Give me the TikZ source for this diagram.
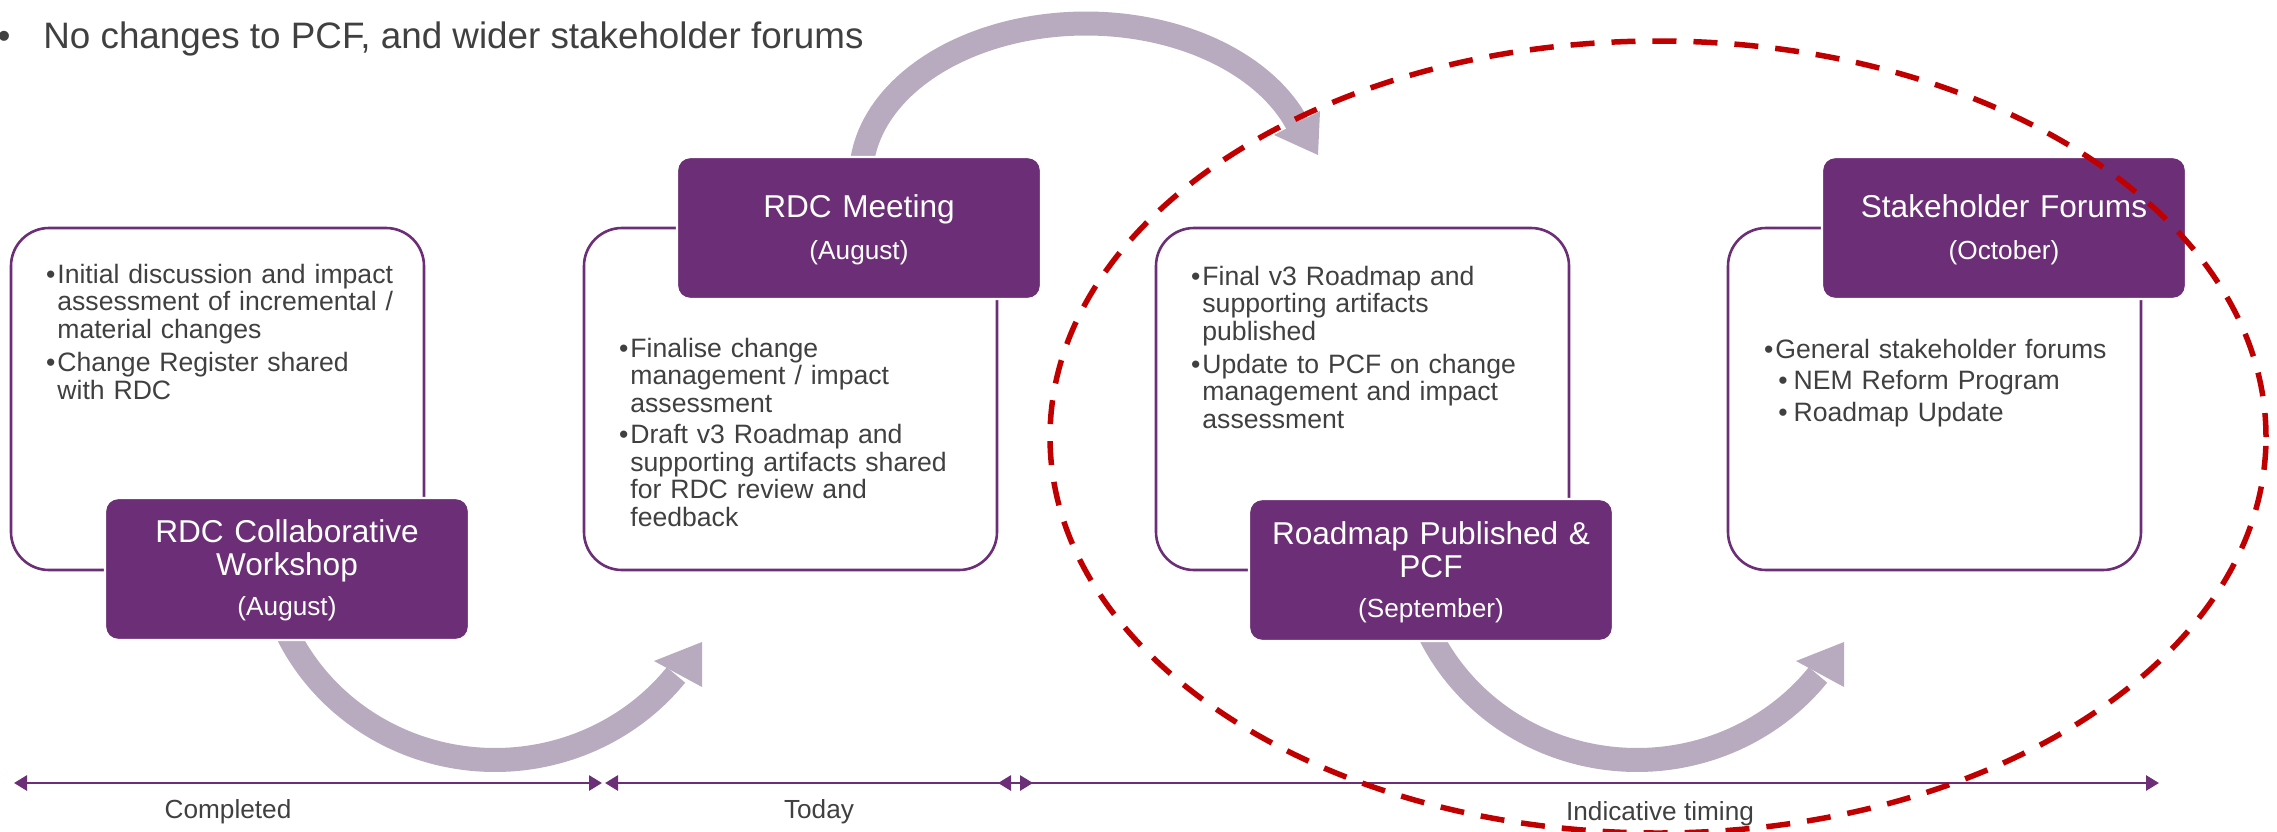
\documentclass[tikz,border=0pt]{standalone}
\usepackage{fontspec}
\setmainfont{Liberation Sans}
\usetikzlibrary{arrows.meta}
\definecolor{rdcpurple}{RGB}{108,46,118}
\definecolor{arrowgray}{RGB}{185,171,191}
\definecolor{txtgray}{RGB}{64,64,64}
\definecolor{dashred}{RGB}{192,0,0}
\newcommand{\bul}{\leavevmode\llap{\textbullet\hspace{1pt}}}
\newcommand{\subbul}{\leavevmode\hspace*{1.5pt}\textbullet\hspace{3pt}}
\newcommand{\monthfont}{\fontsize{13.1}{15}\selectfont}
\begin{document}
\begin{tikzpicture}[x=0.5pt,y=-0.5pt,
  whitebox/.style={draw=rdcpurple, line width=1.3pt, rounded corners=19pt, fill=white, inner sep=0pt,
    minimum width=206.5pt, minimum height=171pt},
  purplebox/.style={fill=rdcpurple, draw=white, line width=1.2pt, rounded corners=6.5pt, inner sep=0pt,
    minimum width=182pt, minimum height=71pt},
  bodytext/.style={text=txtgray, font=\fontsize{13.3}{13.8}\selectfont, text width=190pt, align=left,
    inner sep=0pt, anchor=base west},
  titletext/.style={text=white, font=\fontsize{15.8}{16.5}\selectfont, text width=178pt, align=center,
    inner sep=0pt, anchor=base},
  timelabel/.style={text=txtgray, font=\fontsize{13.1}{15}\selectfont, inner sep=0pt, anchor=base},
  timeline/.style={draw=rdcpurple, line width=1.4pt,
    {Triangle[length=6.5pt,width=7.5pt]}-{Triangle[length=6.5pt,width=7.5pt]}},
  curvedshaft/.style={draw=arrowgray, line width=12pt},
  curvedhead/.style={fill=arrowgray},
  dashring/.style={draw=dashred, line width=2.75pt, dash pattern=on 12pt off 8.5pt}
]
\useasboundingbox (0,0) rectangle (2277,831);

% heading
\node[text=txtgray, font=\fontsize{18.4}{20}\selectfont, inner sep=0pt, anchor=base west] (heading) at (43,48)
  {\llap{\textbullet\hspace{16.5pt}}No changes to PCF, and wider stakeholder forums};

% white outline boxes
\node[whitebox] (box1) at (217.5,399) {};
\node[whitebox] (box2) at (790.5,399) {};
\node[whitebox] (box3) at (1362.5,399) {};
\node[whitebox] (box4) at (1934.5,399) {};

% curved arrows
\draw[curvedshaft] plot[smooth, domain=38.1:155, samples=40, variable=\t] ({495+230*cos(\t)},{538+222*sin(\t)});
\fill[curvedhead] (654,661) -- (702,687) -- (702,642) -- cycle;
\draw[curvedshaft] plot[smooth, domain=184:339.7, samples=40, variable=\t] ({1086+225*cos(\t)},{176.5+153*sin(\t)});
\fill[curvedhead] (1320,111) -- (1274,135) -- (1318,155) -- cycle;
\draw[curvedshaft] plot[smooth, domain=38.1:155, samples=40, variable=\t] ({1637+230*cos(\t)},{538+222*sin(\t)});
\fill[curvedhead] (1796,661) -- (1844,687) -- (1844,642) -- cycle;

% purple title boxes
\node[purplebox] (p1) at (287,569) {};
\node[purplebox] (p2) at (859,228) {};
\node[purplebox] (p3) at (1431,570) {};
\node[purplebox] (p4) at (2004,228) {};

\node[titletext] (p1t) at (287,542) {RDC Collaborative\\Workshop\\[3.5pt]{\monthfont (August)}};
\node[titletext] (p2t) at (859,217) {RDC Meeting\\[4.5pt]{\monthfont (August)}};
\node[titletext] (p3t) at (1431,544) {Roadmap Published \&\\PCF\\[3.5pt]{\monthfont (September)}};
\node[titletext] (p4t) at (2004,217) {Stakeholder Forums\\[4.5pt]{\monthfont (October)}};

% box texts
\node[bodytext] (t1) at (57,283) {\bul Initial discussion and impact\\assessment of incremental /\\material changes\\[3pt]\bul Change Register shared\\with RDC};
\node[bodytext] (t2) at (630,357) {\bul Finalise change\\management / impact\\assessment\\[1.8pt]\bul Draft v3 Roadmap and\\supporting artifacts shared\\for RDC review and\\feedback};
\node[bodytext] (t3) at (1202,285) {\bul Final v3 Roadmap and\\supporting artifacts\\published\\[2.6pt]\bul Update to PCF on change\\management and impact\\assessment};
\node[bodytext] (t4) at (1775,358) {\bul General stakeholder forums\\[2pt]\subbul NEM Reform Program\\[2pt]\subbul Roadmap Update};

% timeline
\coordinate (tA) at (14,783);
\coordinate (tB) at (602,783);
\coordinate (tC) at (605,783);
\coordinate (tD) at (1033,783);
\coordinate (tE) at (998,783);
\coordinate (tF) at (2159,783);
\draw[timeline] (tA) -- (tB);
\draw[timeline] (tC) -- (tD);
\draw[timeline] (tE) -- (tF);
\node[timelabel] (lab1) at (228,818) {Completed};
\node[timelabel] (lab2) at (819,818) {Today};
\node[timelabel] (lab3) at (1660,820) {Indicative timing};

% red dashed ring
\draw[dashring] (1658,437) ellipse [x radius=304pt, y radius=198pt];
\end{tikzpicture}
\end{document}
